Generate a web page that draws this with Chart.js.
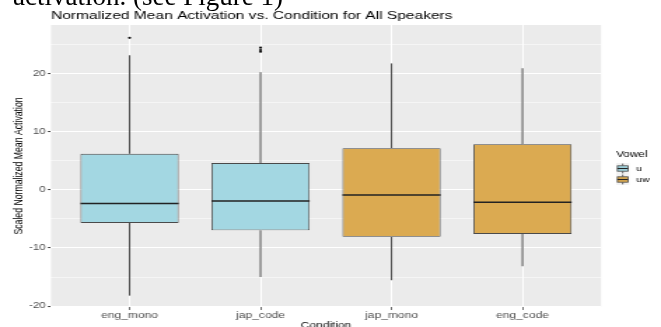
<!DOCTYPE html>
<html><head><meta charset="utf-8">
<script src="https://cdn.jsdelivr.net/npm/chart.js@4.4.1/dist/chart.umd.min.js"></script>
<style>
html,body{margin:0;padding:0;background:#fff;overflow:hidden;width:661px;height:327px;}
#wrap{position:absolute;left:0;top:0;width:472px;height:327px;transform:scaleX(1.40042);transform-origin:0 0;}
#c{display:block;}
#doc{position:absolute;left:13px;top:-16.6px;font:27px/27px 'Liberation Serif','Times New Roman',serif;white-space:nowrap;color:#000;z-index:2;}
</style></head>
<body>
<div id="wrap"><canvas id="c" width="472" height="327"></canvas></div>
<div id="doc">activation. (see Figure 1)</div>
<script>
// ---- data ----
const categories = ['eng_mono', 'jap_code', 'jap_mono', 'eng_code'];
const vowelOf    = ['u', 'u', 'uw', 'uw'];
const vowels     = ['u', 'uw'];
const q1         = [-5.7, -6.97, -8.1, -7.6];
const medians    = [-2.35, -1.94, -0.91, -2.17];
const q3         = [6.17, 4.57, 7.14, 7.83];
const whiskerLo  = [-18.2, -15.0, -15.55, -13.15];
const whiskerHi  = [23.1, 20.2, 21.7, 20.87];
const outlierCond = [0, 1, 1, 1];
const outlierVal  = [26.1, 24.4, 24.0, 23.7];
const yMajorTicks = [-20, -10, 0, 10, 20];
const yMinorTicks = [-15, -5, 5, 15, 25];

// ---- style ----
const FONT = "'Liberation Sans', Arial, Helvetica, sans-serif";
const fills = {u: '#A3D7E2', uw: '#DBAA51'};
const OUTLINE = '#4A4A4A';
const MEDIAN = '#222222';

Chart.defaults.font.family = FONT;
Chart.defaults.color = '#000';

function keyImage(fill) {
  const c = document.createElement('canvas');
  c.width = 14; c.height = 11;
  const g = c.getContext('2d');
  g.fillStyle = '#F2F2F2'; g.fillRect(0, 0, 9.3, 11);
  g.strokeStyle = OUTLINE; g.lineWidth = 0.8;
  g.beginPath(); g.moveTo(4.65, 0.6); g.lineTo(4.65, 2.8); g.moveTo(4.65, 8.2); g.lineTo(4.65, 10.4); g.stroke();
  g.fillStyle = fill; g.fillRect(0.9, 2.8, 7.5, 5.4); g.strokeRect(0.9, 2.8, 7.5, 5.4);
  g.lineWidth = 1.1; g.strokeStyle = MEDIAN;
  g.beginPath(); g.moveTo(0.9, 5.5); g.lineTo(8.4, 5.5); g.stroke();
  return c;
}
const keyImgs = vowels.map(v => keyImage(fills[v]));

const boxDatasets = vowels.map(v => ({
  type: 'bar',
  label: v,
  xAxisID: 'x', yAxisID: 'y',
  data: categories.map((c, i) => ({x: i, y: vowelOf[i] === v ? [q1[i], q3[i]] : null})),
  backgroundColor: fills[v],
  borderColor: OUTLINE,
  borderWidth: 0.9,
  borderSkipped: false,
  barPercentage: 0.75,
  categoryPercentage: 1,
  skipNull: true,
  order: 2
}));

const outlierDataset = {
  type: 'scatter',
  label: 'outliers',
  xAxisID: 'x', yAxisID: 'y',
  data: outlierVal.map((v, i) => ({x: outlierCond[i], y: v})),
  backgroundColor: '#111',
  borderWidth: 0,
  pointRadius: 1.1,
  order: 1
};

const panelBg = {
  id: 'panelBg',
  beforeDraw(chart) {
    const a = chart.chartArea, ctx = chart.ctx;
    ctx.save(); ctx.fillStyle = '#EBEBEB';
    ctx.fillRect(a.left, a.top, a.right - a.left, a.bottom - a.top);
    ctx.restore();
  }
};

const boxParts = {
  id: 'boxParts',
  beforeDatasetsDraw(chart) {
    const x = chart.scales.x, y = chart.scales.y, ctx = chart.ctx;
    ctx.save(); ctx.strokeStyle = OUTLINE; ctx.lineWidth = 1;
    categories.forEach((c, i) => {
      const px = x.getPixelForValue(i);
      ctx.beginPath();
      ctx.moveTo(px, y.getPixelForValue(q3[i])); ctx.lineTo(px, y.getPixelForValue(whiskerHi[i]));
      ctx.moveTo(px, y.getPixelForValue(q1[i])); ctx.lineTo(px, y.getPixelForValue(whiskerLo[i]));
      ctx.stroke();
    });
    ctx.restore();
  },
  afterDatasetsDraw(chart) {
    const y = chart.scales.y, ctx = chart.ctx;
    ctx.save(); ctx.strokeStyle = MEDIAN; ctx.lineWidth = 1.5;
    categories.forEach((c, i) => {
      const d = vowels.indexOf(vowelOf[i]);
      const el = chart.getDatasetMeta(d).data[i];
      const py = y.getPixelForValue(medians[i]);
      ctx.beginPath(); ctx.moveTo(el.x - el.width / 2, py); ctx.lineTo(el.x + el.width / 2, py); ctx.stroke();
    });
    ctx.restore();
  }
};

new Chart(document.getElementById('c'), {
  type: 'bar',
  data: {datasets: [...boxDatasets, outlierDataset]},
  plugins: [panelBg, boxParts],
  options: {
    responsive: false,
    animation: false,
    devicePixelRatio: 1,
    layout: {padding: {left: 0, right: -1.8, top: 0, bottom: 0}},
    plugins: {
      tooltip: {enabled: false},
      title: {
        display: true,
        text: 'Normalized Mean Activation vs. Condition for All Speakers',
        align: 'start', fullSize: false,
        font: {size: 11.1, weight: 'normal', family: FONT},
        color: '#000',
        padding: {top: 9.34, bottom: 2.34}
      },
      legend: {
        position: 'right', align: 'center', fullSize: false,
        title: {display: true, text: 'Vowel', position: 'start',
                font: {size: 8.4, family: FONT}, color: '#000',
                padding: {top: 5.55, bottom: 0.37}},
        labels: {
          usePointStyle: true, pointStyleWidth: 7.05, padding: 3.5,
          font: {size: 7.5, family: FONT}, color: '#000',
          generateLabels: () => vowels.map((v, i) => ({
            text: v, pointStyle: keyImgs[i], fillStyle: fills[v], strokeStyle: OUTLINE,
            lineWidth: 0, hidden: false, datasetIndex: i, fontColor: '#000'
          }))
        }
      }
    },
    scales: {
      x: {
        type: 'linear', min: -0.6, max: 3.6, offset: false,
        afterBuildTicks: s => { s.ticks = categories.map((c, i) => ({value: i})); },
        afterFit: s => { s.height = 20; },
        ticks: {autoSkip: false, maxRotation: 0, padding: 0.5,
                callback: v => categories[v],
                font: {size: 8.6, family: FONT}, color: '#4D4D4D'},
        grid: {offset: false, color: '#FFFFFF', lineWidth: 1, drawTicks: true, tickLength: 3,
               tickColor: '#333333', tickWidth: 0.7},
        border: {display: false},
        title: {display: true, text: 'Condition', color: '#000',
                font: {size: 8.5, family: FONT}, padding: {top: 0, bottom: -3.6}}
      },
      y: {
        type: 'linear', min: -20.15, max: 28.3,
        afterBuildTicks: s => {
          s.ticks = [...yMajorTicks, ...yMinorTicks].sort((a, b) => a - b).map(v => ({value: v}));
        },
        afterFit: s => { s.width = 36.4; },
        ticks: {autoSkip: false, padding: 1.5,
                callback: v => yMajorTicks.includes(v) ? String(v) : '',
                font: {size: 8.3, family: FONT}, color: '#4D4D4D'},
        grid: {color: '#FFFFFF',
               lineWidth: c => yMajorTicks.includes(c.tick.value) ? 1.1 : 0.5,
               drawTicks: true, tickLength: 2.2,
               tickColor: c => yMajorTicks.includes(c.tick.value) ? '#333333' : 'rgba(0,0,0,0)',
               tickWidth: 1},
        border: {display: false},
        title: {display: true, text: 'Scaled Normalized Mean Activation', color: '#000',
                font: {size: 8.7, family: FONT}, padding: {top: 8.4, bottom: 0}}
      },
      gap: {
        type: 'linear', position: 'right', display: true,
        grid: {display: false}, border: {display: false},
        ticks: {display: false}, title: {display: false},
        afterFit: s => { s.width = 10.7; }
      }
    }
  }
});
</script>
</body></html>
